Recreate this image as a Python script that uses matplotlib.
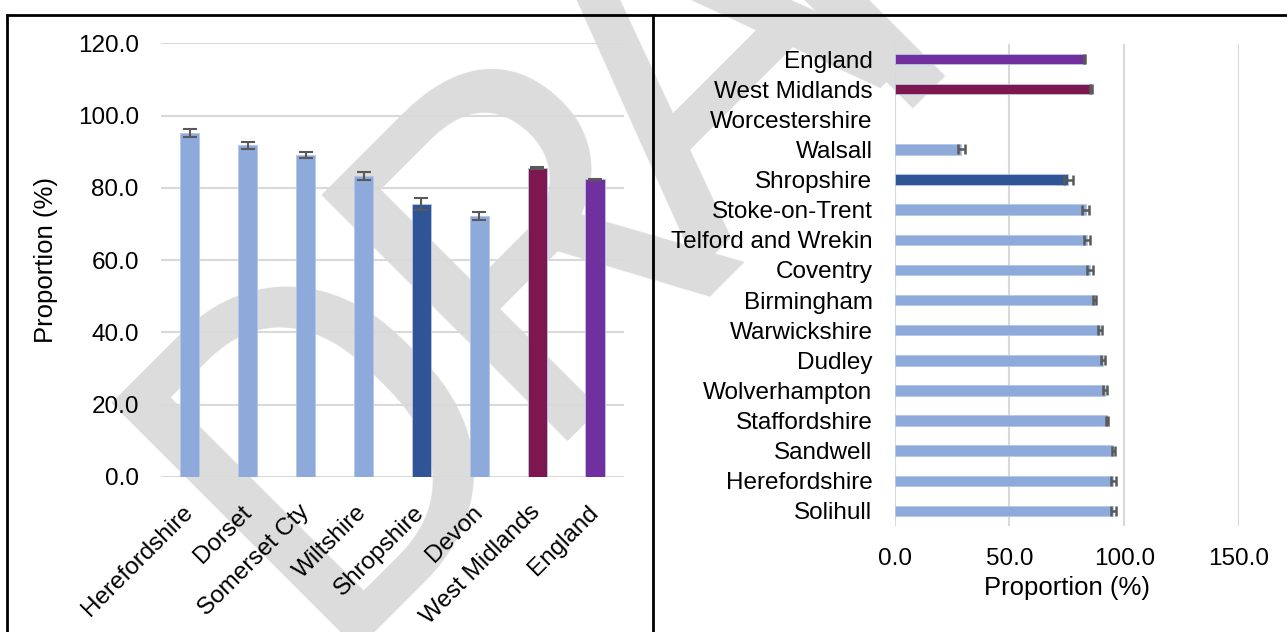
import matplotlib
matplotlib.use('Agg')
import matplotlib.pyplot as plt
from matplotlib import font_manager
from matplotlib.lines import Line2D
import numpy as np

plt.rcParams['font.family'] = ['Liberation Sans', 'DejaVu Sans']

# left chart: Shropshire and its comparators
comp_names = ['Herefordshire', 'Dorset', 'Somerset Cty', 'Wiltshire',
              'Shropshire', 'Devon', 'West Midlands', 'England']
comp_vals = [95.2, 91.8, 89.2, 83.3, 75.6, 72.2, 85.5, 82.4]
comp_err = [1.0, 1.05, 0.8, 1.05, 1.7, 1.05, 0.3, 0.15]

# right chart: West Midlands areas, listed top to bottom
area_names = ['England', 'West Midlands', 'Worcestershire', 'Walsall', 'Shropshire',
              'Stoke-on-Trent', 'Telford and Wrekin', 'Coventry', 'Birmingham',
              'Warwickshire', 'Dudley', 'Wolverhampton', 'Staffordshire', 'Sandwell',
              'Herefordshire', 'Solihull']
area_vals = [82.6, 85.6, np.nan, 29.0, 75.7, 83.3, 83.8, 85.1, 87.2,
             89.4, 90.8, 91.7, 92.6, 95.2, 95.2, 95.3]
area_err = [0.1, 0.3, np.nan, 1.6, 1.8, 1.5, 1.5, 1.2, 0.6,
            0.8, 0.8, 0.8, 0.5, 0.7, 1.0, 0.9]

LIGHT = '#8eaadb'
SPECIAL = {'England': '#7030a0', 'West Midlands': '#7e1650', 'Shropshire': '#2f5597'}
GRID = '#d9d9d9'
ERR = '#595959'
FS = 17.5


def colour(name):
    return SPECIAL.get(name, LIGHT)


def watermark_family():
    # a narrow face if one is installed, else the narrowest of the usual ones
    for fam in ['Liberation Sans Narrow', 'Roboto']:
        try:
            font_manager.findfont(font_manager.FontProperties(family=fam),
                                  fallback_to_default=False)
            return fam
        except ValueError:
            pass
    return 'Liberation Sans'


fig = plt.figure(figsize=(12.87, 6.32), dpi=100)
W, H = 1287.0, 632.0

# watermark letters behind everything, placed along a 45 degree baseline
# (pixel position of each letter's lower-left corner, measured from top-left)
wm_fam = watermark_family()
em = 488.0
for ch, (px, py), lsb in [('D', (345, 621), 0.08), ('R', (555, 413), 0.08),
                          ('A', (695, 268), 0.01), ('F', (900, 80), 0.08),
                          ('T', (1080, -100), 0.02)]:
    off = lsb * em * 0.7071
    fig.text((px - off) / W, (H - py - off) / H, ch, rotation=45,
             rotation_mode='anchor', ha='left', va='baseline',
             fontsize=em * 0.72, family=wm_fam, color='#dcdcdc', zorder=-1)

# ---- left chart
ax1 = fig.add_axes([0.1251, 0.2453, 0.3597, 0.6859])
ax1.set_facecolor('none')
x = np.arange(len(comp_names))
ax1.bar(x, comp_vals, width=0.33, color=[colour(n) for n in comp_names],
        edgecolor='#b4c7e7', linewidth=0.6, zorder=2)
ax1.errorbar(x, comp_vals, yerr=comp_err, fmt='none', ecolor=ERR,
             elinewidth=1.5, capsize=5, capthick=1.5, zorder=3)
ax1.set_xlim(-0.5, len(comp_names) - 0.5)
ax1.set_ylim(0, 120)
ax1.set_yticks(np.arange(0, 121, 20))
ax1.set_yticklabels(['%.1f' % v for v in np.arange(0, 121, 20)])
ax1.set_xticks(x)
ax1.set_xticklabels(comp_names, rotation=45, ha='right', va='center',
                    rotation_mode='anchor')
ax1.tick_params(axis='both', length=0, labelsize=FS)
ax1.tick_params(axis='y', pad=16)
ax1.tick_params(axis='x', pad=23)
ax1.grid(axis='y', color=GRID, linewidth=1.5, zorder=0)
ax1.set_axisbelow(True)
for s in ax1.spines.values():
    s.set_visible(False)
ax1.set_ylabel('Proportion (%)', fontsize=18.5, labelpad=14)

# ---- right chart
ax2 = fig.add_axes([0.6952, 0.1677, 0.2675, 0.7627])
ax2.set_facecolor('none')
y = np.arange(len(area_names))
ax2.barh(y, area_vals, height=0.35, color=[colour(n) for n in area_names],
         edgecolor='#b4c7e7', linewidth=0.6, zorder=2)
ax2.errorbar(area_vals, y, xerr=area_err, fmt='none', ecolor=ERR,
             elinewidth=1.8, capsize=3.3, capthick=1.8, zorder=3)
ax2.set_ylim(len(area_names) - 0.5, -0.5)
ax2.set_xlim(0, 150)
ax2.set_xticks([0, 50, 100, 150])
ax2.set_xticklabels(['%.1f' % v for v in [0, 50, 100, 150]])
ax2.set_yticks(y)
ax2.set_yticklabels(area_names)
ax2.tick_params(axis='both', length=0, labelsize=FS)
ax2.tick_params(axis='y', pad=16)
ax2.tick_params(axis='x', pad=16)
ax2.grid(axis='x', color=GRID, linewidth=1.5, zorder=0)
ax2.set_axisbelow(True)
for s in ax2.spines.values():
    s.set_visible(False)
ax2.set_xlabel('Proportion (%)', fontsize=18.5, labelpad=4)

# panel borders
for xs, ys in [([0.0054, 1.0], [0.9763, 0.9763]),
               ([0.0054, 0.0054], [0.0, 0.9763]),
               ([0.5074, 0.5074], [0.0, 0.9763])]:
    fig.add_artist(Line2D(xs, ys, color='black', linewidth=2,
                          transform=fig.transFigure, zorder=10))

fig.savefig('out.png', dpi=100)
